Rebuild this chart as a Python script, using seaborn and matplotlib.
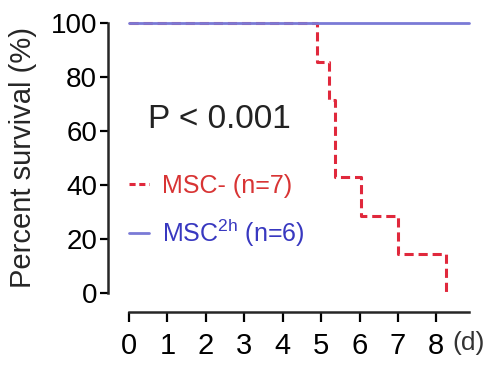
import seaborn as sns
import matplotlib.pyplot as plt
import pandas as pd
from matplotlib.lines import Line2D

# Kaplan-Meier style survival data
dias_msc_neg = [0, 4.9, 5.2, 5.35, 6.05, 7.0, 8.25]
sobrev_msc_neg = [100, 85.7, 71.4, 42.9, 28.6, 14.3, 0]
dias_msc_2h = [0, 8.85]
sobrev_msc_2h = [100, 100]

rotulo_neg = "MSC- (n=7)"
rotulo_2h = r"MSC$^{\mathregular{2h}}$ (n=6)"
texto_p = "P < 0.001"
dias_ticks = [0, 1, 2, 3, 4, 5, 6, 7, 8]
sobrev_ticks = [0, 20, 40, 60, 80, 100]

cor_vermelho = "#e0283c"
cor_azul = "#7a7ad6"

sns.set_style("ticks")
plt.rcParams["font.family"] = ["Liberation Sans", "DejaVu Sans"]

df_neg = pd.DataFrame({"dia": dias_msc_neg, "sobrev": sobrev_msc_neg})
df_2h = pd.DataFrame({"dia": dias_msc_2h, "sobrev": sobrev_msc_2h})

fig = plt.figure(figsize=(5, 3.78), dpi=100)
ax = fig.add_axes([129 / 500, 1 - 293 / 378, 340 / 500, 270 / 378])

sns.lineplot(data=df_neg, x="dia", y="sobrev", ax=ax, color=cor_vermelho,
             linestyle=(0, (3, 1.6)), linewidth=2.2, drawstyle="steps-post",
             estimator=None, sort=False, clip_on=False)
sns.lineplot(data=df_2h, x="dia", y="sobrev", ax=ax, color=cor_azul,
             linewidth=2.0, estimator=None, sort=False, clip_on=False)

ax.set_xlim(0, 8.85)
ax.set_ylim(0, 100)
ax.set_xticks(dias_ticks)
ax.set_yticks(sobrev_ticks)
ax.tick_params(axis="both", length=6, width=1.6, labelsize=20, colors="black")
ax.tick_params(axis="x", length=7, pad=7, labelsize=21)
ax.tick_params(axis="y", pad=2)
ax.set_xlabel("")
ax.set_ylabel("Percent survival (%)", fontsize=21, labelpad=10)

sns.despine(ax=ax, offset={"left": 15, "bottom": 14})
for lado in ["left", "bottom"]:
    ax.spines[lado].set_linewidth(1.8)
ax.spines["bottom"].set_bounds(0, 8.85)
ax.spines["left"].set_bounds(0, 100)

ax.text(0.5, 61, texto_p, fontsize=24, color="#222222", ha="left", va="baseline")
fig.text(452 / 500, 1 - 343 / 378, "(d)", fontsize=19, color="#333333",
         ha="left", va="center")

alcas = [
    Line2D([], [], color=cor_vermelho, linestyle=(0, (2, 1.2)), linewidth=2.2),
    Line2D([], [], color=cor_azul, linewidth=2.0),
]
leg = ax.legend(alcas, [rotulo_neg, rotulo_2h], loc="upper left",
                bbox_to_anchor=(0.0, 0.44), frameon=False, fontsize=18,
                handlelength=0.8, handletextpad=0.5, labelspacing=0.75,
                borderpad=0, borderaxespad=0)
for t, c in zip(leg.get_texts(), ["#d83434", "#3838c0"]):
    t.set_color(c)

fig.savefig("out.png", dpi=100)
